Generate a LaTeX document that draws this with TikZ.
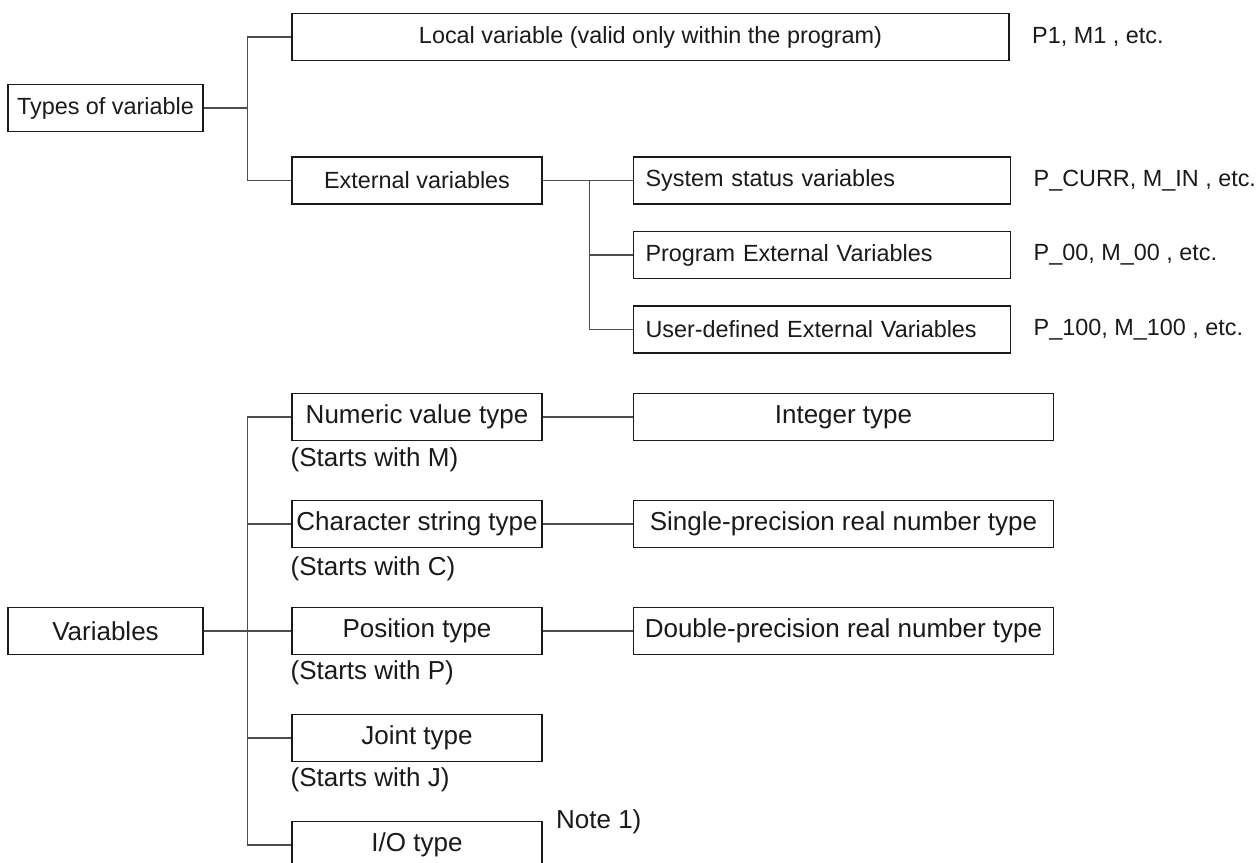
\documentclass[tikz,border=0pt]{standalone}
\usepackage{fontspec}
\setmainfont{Liberation Sans}
\usepackage{tikz}
\usetikzlibrary{positioning,calc}
\definecolor{ink}{HTML}{1A1A1A}
\definecolor{wire}{HTML}{4D4D4D}
\tikzset{
  varbox/.style={rectangle,draw=ink,line width=0.75pt,fill=white,text=ink,align=center,
    font=\fontsize{11.7}{14}\selectfont,minimum height=23.5pt,inner sep=2pt},
  rootbox/.style={varbox,minimum width=97.5pt},
  midbox/.style={varbox,minimum width=125pt},
  extbox/.style={varbox,minimum width=188.5pt,text width=176.5pt,align=left,inner xsep=6pt},
  lowbox/.style={midbox,font=\fontsize{13}{15.6}\selectfont},
  kindbox/.style={varbox,minimum width=210pt,font=\fontsize{13}{15.6}\selectfont},
  exlbl/.style={inner sep=0pt,text=ink,font=\fontsize{11.7}{14}\selectfont,anchor=west},
  startlbl/.style={inner sep=0pt,text=ink,font=\fontsize{13}{15.6}\selectfont,anchor=west},
  wirearr/.style={line width=0.6pt,color=wire},
}
\begin{document}
\begin{tikzpicture}[x=0.5pt,y=-0.5pt,node distance=13pt and 45pt]
  \useasboundingbox (0,0) rectangle (1257,862);
  \clip (0,0) rectangle (1257,862);

  % types of variable
  \node[rootbox] (tv) at (105.5,108) {Types of variable};
  \node[varbox,minimum width=358.5pt] (lv) at (650.5,37) {Local variable (valid only within the program)};
  \node[midbox] (ev) at (417,180.5) {External variables};
  \node[extbox, right=of ev] (ss) {System status variables};
  \node[extbox, below=of ss] (pe) {Program External Variables};
  \node[extbox, below=of pe] (ud) {User-defined External Variables};

  \node[exlbl, right=11pt of lv] (lvx) {P1, M1 , etc.};
  \node[exlbl, right=11pt of ss] (ssx) {P\_CURR, M\_IN , etc.};
  \node[exlbl, right=11pt of pe] (pex) {P\_00, M\_00 , etc.};
  \node[exlbl, right=11pt of ud] (udx) {P\_100, M\_100 , etc.};

  \draw[wirearr] (tv.east) -- ++(22pt,0) coordinate (tj);
  \draw[wirearr] (lv.west) -| (tj) |- (ev.west);
  \draw[wirearr] (ev.east) -- (ss.west);
  \coordinate (ej) at ([xshift=23.5pt]ev.east);
  \draw[wirearr] (ej) |- (pe.west);
  \draw[wirearr] (ej) |- (ud.west);

  % variables
  \node[rootbox,font=\fontsize{13}{15.6}\selectfont] (vr) at (105.5,631) {Variables};
  \node[lowbox] (ps) at (417,631) {Position type};
  \node[lowbox, above=29.25pt of ps] (cs) {Character string type};
  \node[lowbox, above=29.25pt of cs] (nv) {Numeric value type};
  \node[lowbox, below=29.25pt of ps] (jt) {Joint type};
  \node[lowbox, below=29.25pt of jt] (io) {I/O type};

  \node[kindbox, right=of nv] (it) {Integer type};
  \node[kindbox, right=of cs] (sp) {Single-precision real number type};
  \node[kindbox, right=of ps] (dp) {Double-precision real number type};

  \node[startlbl] (nvs) at ([xshift=-0.5pt,yshift=-9.5pt]nv.south west) {(Starts with M)};
  \node[startlbl] (css) at ([xshift=-0.5pt,yshift=-10.5pt]cs.south west) {(Starts with C)};
  \node[startlbl] (pss) at ([xshift=-0.5pt,yshift=-9pt]ps.south west) {(Starts with P)};
  \node[startlbl] (jts) at ([xshift=-0.5pt,yshift=-9pt]jt.south west) {(Starts with J)};
  \node[startlbl] (ion) at ([xshift=6.5pt,yshift=-0.5pt]io.north east) {Note 1)};

  \draw[wirearr] (vr.east) -- (ps.west);
  \coordinate (vj) at ([xshift=22pt]vr.east);
  \draw[wirearr] (nv.west) -| (vj) |- (io.west);
  \draw[wirearr] (vj) |- (cs.west);
  \draw[wirearr] (vj) |- (jt.west);
  \draw[wirearr] (nv.east) -- (it.west);
  \draw[wirearr] (cs.east) -- (sp.west);
  \draw[wirearr] (ps.east) -- (dp.west);
\end{tikzpicture}
\end{document}
